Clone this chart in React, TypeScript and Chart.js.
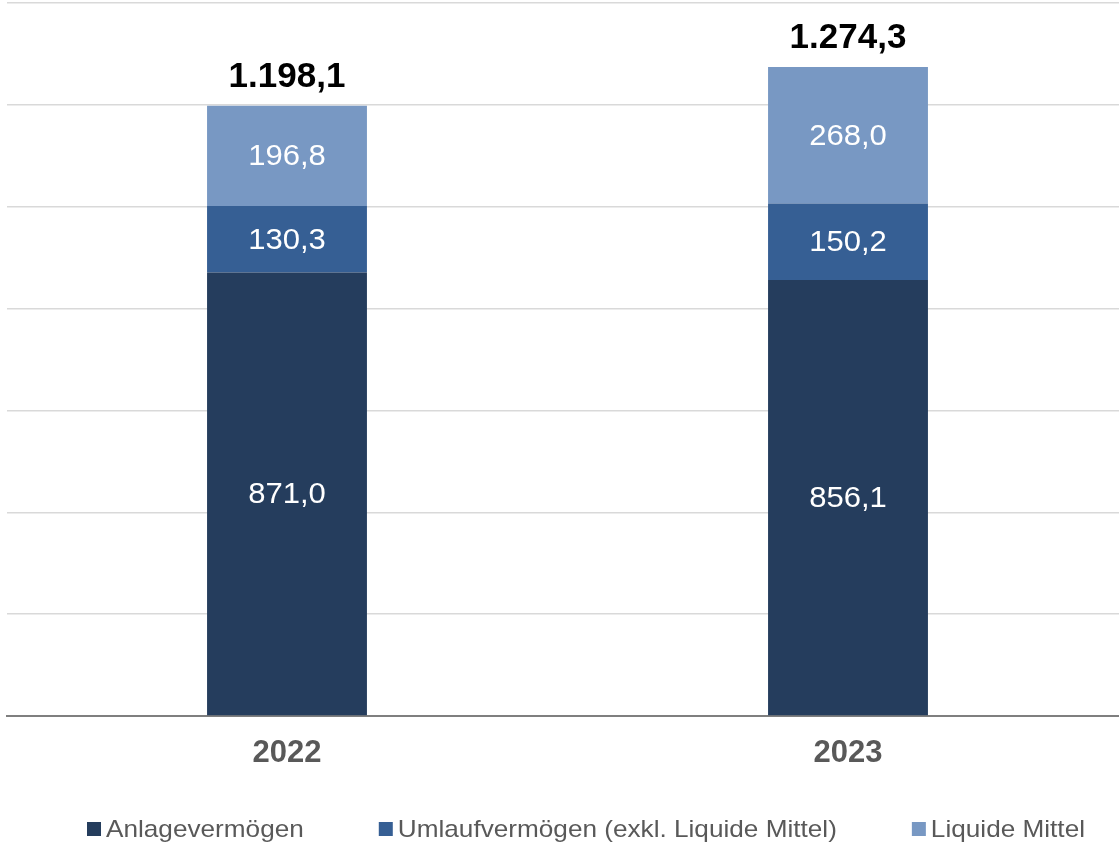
import React, { useEffect, useRef } from 'react';
import { Chart, registerables } from 'chart.js';

Chart.register(...registerables);

const categories = ['2022', '2023'];
const seriesNames = ['Anlagevermögen', 'Umlaufvermögen (exkl. Liquide Mittel)', 'Liquide Mittel'];
const anlage = [871.0, 856.1];
const umlauf = [130.3, 150.2];
const liquide = [196.8, 268.0];
const totals = [1198.1, 1274.3];
const yMax = 1400;
const yStep = 200;

const colors = ['#253D5D', '#365F94', '#7898C3'];
const FONT = "'Liberation Sans', Arial, sans-serif";

function fmt(v: number): string {
  const fixed = v.toFixed(1);
  const [intPart, dec] = fixed.split('.');
  const withDots = intPart.replace(/\B(?=(\d{3})+(?!\d))/g, '.');
  return withDots + ',' + dec;
}

function stretchedText(ctx: CanvasRenderingContext2D, text: string, x: number, y: number, sx: number) {
  ctx.save();
  ctx.translate(x, y);
  ctx.scale(sx, 1);
  ctx.fillText(text, 0, 0);
  ctx.restore();
}

const labelsPlugin = {
  id: 'customLabels',
  afterDatasetsDraw(chart: any) {
    const ctx = chart.ctx;
    ctx.save();
    ctx.textAlign = 'center';
    ctx.textBaseline = 'middle';
    ctx.fillStyle = '#ffffff';
    ctx.font = `29px ${FONT}`;
    chart.data.datasets.forEach((ds: any, di: number) => {
      const meta = chart.getDatasetMeta(di);
      meta.data.forEach((bar: any, i: number) => {
        const y = (bar.y + bar.base) / 2;
        stretchedText(ctx, fmt(ds.data[i]), bar.x, y + 1.5, 1.07);
      });
    });
    const topMeta = chart.getDatasetMeta(chart.data.datasets.length - 1);
    ctx.fillStyle = '#000000';
    ctx.font = `bold 35px ${FONT}`;
    ctx.textBaseline = 'alphabetic';
    topMeta.data.forEach((bar: any, i: number) => {
      ctx.fillText(fmt(totals[i]), bar.x, bar.y - 19);
    });
    ctx.restore();
  },
  afterDraw(chart: any) {
    const ctx = chart.ctx;
    ctx.save();
    ctx.font = `24px ${FONT}`;
    ctx.textBaseline = 'middle';
    ctx.textAlign = 'left';
    const sx = 1.09;
    const box = 14;
    const gapBoxText = 5;
    const gapItems = 75;
    const widths = seriesNames.map((n) => box + gapBoxText + ctx.measureText(n).width * sx);
    const total = widths.reduce((a, b) => a + b, 0) + gapItems * (seriesNames.length - 1);
    let x = 586 - total / 2;
    const y = 829;
    seriesNames.forEach((n, i) => {
      ctx.fillStyle = colors[i];
      ctx.fillRect(x, y - box / 2, box, box);
      ctx.fillStyle = '#595959';
      stretchedText(ctx, n, x + box + gapBoxText, y + 1, sx);
      x += widths[i] + gapItems;
    });
    ctx.restore();
  },
};

export default function App() {
  const canvasRef = useRef<HTMLCanvasElement | null>(null);

  useEffect(() => {
    if (!canvasRef.current) return;
    const chart = new Chart(canvasRef.current, {
      type: 'bar',
      data: {
        labels: categories,
        datasets: [
          { label: seriesNames[0], data: anlage, backgroundColor: colors[0] },
          { label: seriesNames[1], data: umlauf, backgroundColor: colors[1] },
          { label: seriesNames[2], data: liquide, backgroundColor: colors[2] },
        ],
      },
      options: {
        animation: false,
        responsive: true,
        maintainAspectRatio: false,
        layout: { padding: { left: 6.5, right: 1.5, top: 3, bottom: 0 } },
        datasets: {
          bar: { categoryPercentage: 1, barPercentage: 0.285 },
        },
        plugins: {
          legend: { display: false },
          tooltip: { enabled: false },
        },
        scales: {
          x: {
            stacked: true,
            grid: { display: false, drawTicks: false },
            border: { display: true, color: '#7f7f7f', width: 2 },
            ticks: {
              color: '#595959',
              font: { family: FONT, size: 31, weight: 'bold' },
              padding: 19,
            },
            afterFit: (scale: any) => {
              scale.height = 128;
            },
          },
          y: {
            stacked: true,
            min: 0,
            max: yMax,
            ticks: { display: false, stepSize: yStep },
            grid: {
              color: '#d9d9d9',
              lineWidth: 1.5,
              drawTicks: false,
            },
            border: { display: false },
            afterFit: (scale: any) => {
              scale.width = 0;
            },
          },
        },
      },
      plugins: [labelsPlugin],
    });
    return () => chart.destroy();
  }, []);

  return (
    <div style={{ position: 'absolute', left: 0, top: 0, width: 1119, height: 844, overflow: 'hidden', background: '#fff' }}>
      <div style={{ position: 'relative', width: 1130, height: 844 }}>
        <canvas ref={canvasRef} />
      </div>
    </div>
  );
}
